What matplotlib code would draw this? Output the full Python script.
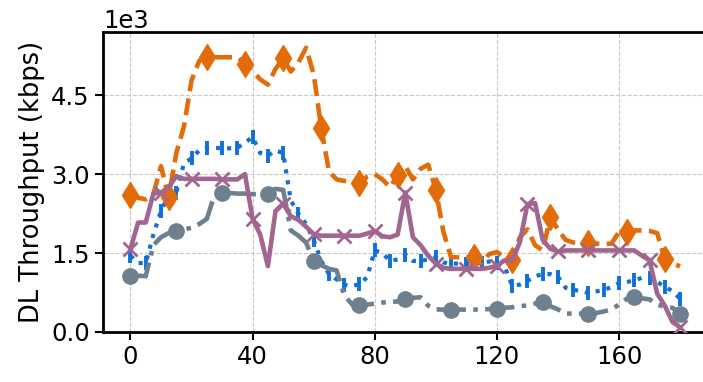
import matplotlib
matplotlib.use("Agg")
import matplotlib.pyplot as plt
import numpy as np

time_s = np.arange(0, 180.01, 2.5)

orange_vals = [2600, 2550, 2520, 2620, 3150, 2560, 3400, 3900, 4780, 5150,
               5220, 5220, 5220, 5220, 5220, 5100, 4960, 4800, 4700, 5000,
               5200, 4950, 5120, 5400, 4900, 3870, 3050, 2900, 2870, 2870,
               2830, 2950, 3000, 2900, 2750, 2980, 3150, 2900, 3100, 3180,
               2700, 1900, 1420, 1420, 1420, 1420, 1320, 1480, 1520, 1420,
               1360, 1800, 1950, 1650, 1550, 2180, 1950, 1750, 1700, 1700,
               1700, 1680, 1670, 1680, 1900, 1900, 1930, 1930, 1920, 1880,
               1380, 1300, 1250]

blue_vals = [1450, 1310, 1310, 1850, 2300, 2600, 2650, 3200, 3300, 3450,
             3500, 3500, 3490, 3490, 3500, 3600, 3700, 3400, 3350, 3450,
             3400, 2500, 2250, 2050, 1750, 1350, 1100, 1000, 900, 870,
             910, 1040, 1550, 1500, 1350, 1380, 1470, 1350, 1350, 1380,
             1420, 1320, 1300, 1300, 1300, 1300, 1310, 1340, 1310, 1250,
             880, 900, 970, 1060, 1100, 1100, 1050, 840, 800, 780,
             740, 770, 800, 850, 930, 950, 980, 1030, 1030, 950,
             860, 780, 630]

gray_vals = [1070, 1070, 1060, 1650, 1800, 1880, 1920, 1950, 1980, 2050,
             2150, 2600, 2650, 2640, 2630, 2630, 2620, 2620, 2630, 2720,
             2700, 1930, 1830, 1700, 1350, 1270, 1200, 1170, 700, 530,
             505, 520, 540, 560, 570, 580, 630, 650, 660, 500,
             430, 425, 425, 425, 425, 425, 430, 435, 440, 460,
             470, 490, 505, 540, 570, 490, 430, 350, 350, 350,
             350, 360, 390, 430, 520, 630, 660, 640, 620, 520,
             480, 460, 350]

purple_vals = [1580, 2080, 2080, 2630, 2650, 2750, 2960, 2910, 2910, 2910,
               2910, 2910, 2900, 2900, 2900, 3000, 2150, 1850, 1250, 2300,
               2440, 2200, 2130, 2000, 1860, 1830, 1830, 1830, 1830, 1830,
               1830, 1870, 1920, 1820, 1800, 1850, 2650, 1800, 1650, 1450,
               1300, 1220, 1200, 1200, 1200, 1200, 1200, 1220, 1260, 1360,
               1360, 1700, 2430, 2450, 1750, 1580, 1530, 1550, 1550, 1550,
               1550, 1550, 1550, 1550, 1550, 1550, 1550, 1450, 1360, 730,
               500, 190, 90]

x_ticks = [0, 40, 80, 120, 160]
y_ticks = [0, 1500, 3000, 4500]

fig = plt.figure(figsize=(7.03, 3.82), dpi=100)
ax = fig.add_axes([0.1465, 0.1309, 0.860, 0.7853])

c_orange = '#e36c09'
c_blue = '#1170d8'
c_gray = '#6e7f8e'
c_purple = '#a0668f'

ax.plot(time_s, blue_vals, linestyle=':', color=c_blue, lw=3,
        marker='|', markersize=10, markeredgewidth=2.8, markevery=2, zorder=3)
ax.plot(time_s, orange_vals, linestyle='--', color=c_orange, lw=3.3,
        marker='d', markersize=13, markevery=5, zorder=4)
ax.plot(time_s, gray_vals, linestyle='-.', color=c_gray, lw=3.3,
        marker='o', markersize=11, markevery=6, zorder=5)
ax.plot(time_s, purple_vals, linestyle='-', color=c_purple, lw=3.3,
        marker='x', markersize=10, markeredgewidth=2, markevery=4, zorder=6)

ax.set_xlim(-9, 189)
ax.set_ylim(0, 5700)
ax.set_xticks(x_ticks)
ax.set_yticks(y_ticks)
ax.ticklabel_format(axis='y', style='sci', scilimits=(3, 3))
ax.yaxis.get_offset_text().set_fontsize(17.5)
ax.tick_params(labelsize=17.5, width=1.5, length=6)
ax.set_ylabel('DL Throughput (kbps)', fontsize=18.5)
ax.grid(True, linestyle='--', color='#c8c8c8', linewidth=0.8)
ax.set_axisbelow(True)
for s in ax.spines.values():
    s.set_linewidth(2)

fig.savefig('out.png', dpi=100)
